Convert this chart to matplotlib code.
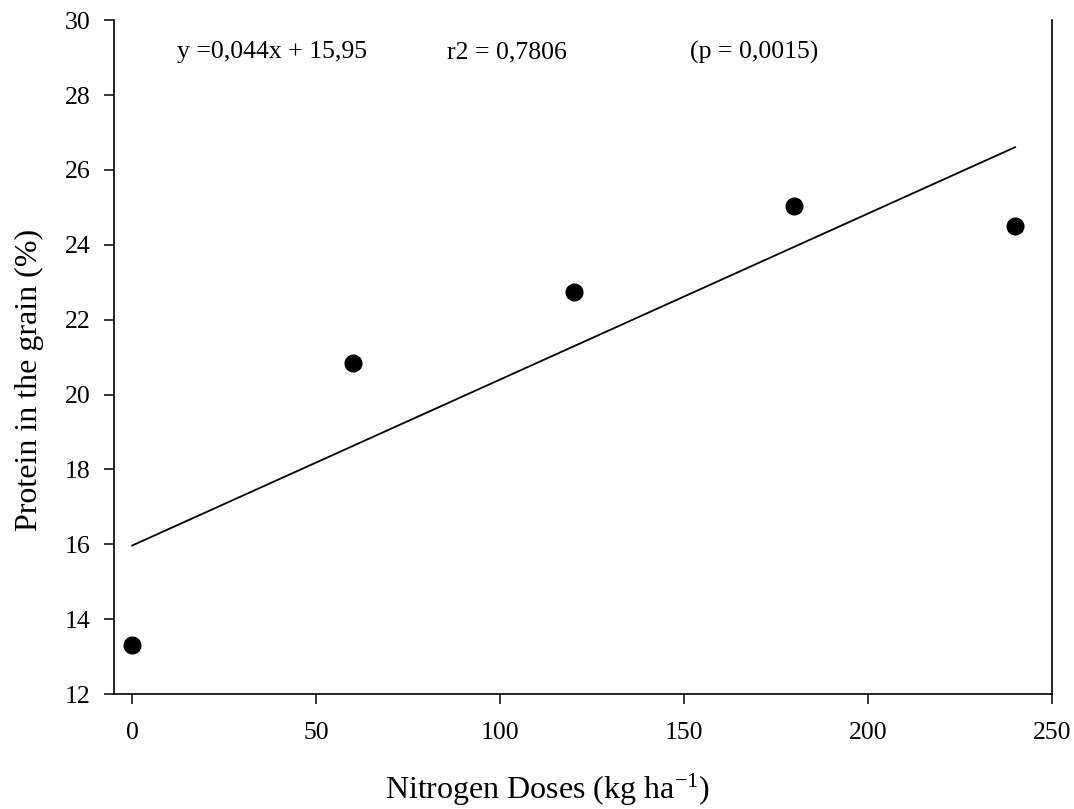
import numpy as np
import matplotlib
matplotlib.use("Agg")
import matplotlib.pyplot as plt

# nitrogen doses (kg/ha) and protein in the grain (%)
doses = [0, 60, 120, 180, 240]
protein = [13.3, 20.85, 22.75, 25.05, 24.5]

eq_text = "y =0,044x + 15,95"
r2_text = "r2 = 0,7806"
p_text = "(p = 0,0015)"

plt.rcParams['font.family'] = ['Liberation Serif', 'DejaVu Serif']
plt.rcParams['mathtext.fontset'] = 'custom'
plt.rcParams['mathtext.rm'] = 'Liberation Serif'
plt.rcParams['mathtext.default'] = 'regular'

fig = plt.figure(figsize=(10.74, 8.09), dpi=100)
ax = fig.add_axes([0.106, 0.142, 0.8735, 0.833])

# linear fit line over the dose range
slope, icept = np.polyfit(doses, protein, 1)
xfit = np.array([doses[0], doses[-1]])
ax.plot(xfit, slope * xfit + icept, color='black', lw=1.3)
ax.plot(doses, protein, 'o', color='black', ms=12)

ax.set_xlim(-5, 250)
ax.set_ylim(12, 30)
ax.set_xticks([0, 50, 100, 150, 200, 250])
ax.set_yticks(range(12, 31, 2))

ax.spines['top'].set_visible(False)
for s in ['left', 'bottom', 'right']:
    ax.spines[s].set_linewidth(1.2)
ax.tick_params(axis='both', direction='out', length=7, width=1.1, labelsize=18.5)
ax.tick_params(axis='y', pad=10)
ax.tick_params(axis='x', pad=13)

ax.set_ylabel('Protein in the grain (%)', fontsize=23)
ax.set_xlabel('Nitrogen Doses (kg ha$^{-1}$)', fontsize=23)
ax.yaxis.set_label_coords(-0.0746, 0.466)
ax.xaxis.set_label_coords(0.462, -0.1157)

ax.text(12.2, 29.15, eq_text, fontsize=18.5, va='center', ha='left')
ax.text(85.5, 29.15, r2_text, fontsize=18.5, va='center', ha='left')
ax.text(151.5, 29.15, p_text, fontsize=18.5, va='center', ha='left')

fig.savefig('out.png', dpi=100)
